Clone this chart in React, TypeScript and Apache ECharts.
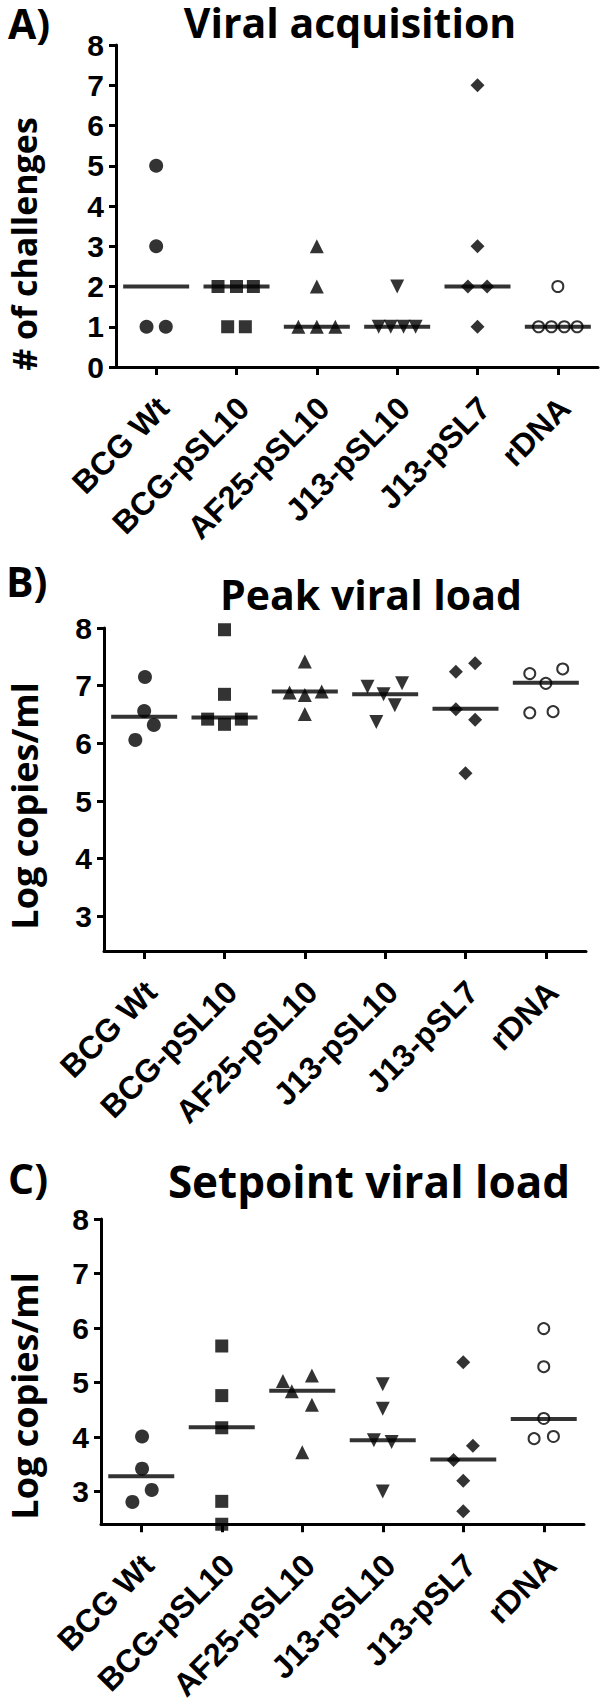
import React, { useEffect, useRef } from "react";
import * as echarts from "echarts";

const categories = ["BCG Wt", "BCG-pSL10", "AF25-pSL10", "J13-pSL10", "J13-pSL7", "rDNA"];

// Panel A: number of challenges
const acqValues = [
  [5, 3, 1, 1],
  [2, 2, 2, 1, 1],
  [3, 2, 1, 1, 1],
  [2, 1, 1, 1, 1],
  [7, 3, 2, 2, 1],
  [2, 1, 1, 1, 1],
];
const acqJitter = [
  [0, 0, -0.12, 0.12],
  [-0.23, 0, 0.21, -0.11, 0.11],
  [0, 0, -0.23, 0, 0.23],
  [0, -0.23, -0.08, 0.08, 0.23],
  [0, 0, -0.12, 0.12, 0],
  [0, -0.24, -0.08, 0.08, 0.24],
];
const acqMedians = [2, 2, 1, 1, 2, 1];

// Panel B: peak viral load (log copies/ml)
const peakValues = [
  [7.15, 6.56, 6.32, 6.06],
  [7.97, 6.85, 6.42, 6.33, 6.42],
  [7.42, 6.88, 6.84, 6.9, 6.51],
  [6.98, 6.85, 7.04, 6.66, 6.37],
  [7.24, 7.39, 6.59, 6.41, 5.48],
  [7.21, 7.04, 7.29, 6.53, 6.55],
];
const peakJitter = [
  [0.01, 0, 0.12, -0.11],
  [0, 0, -0.21, 0, 0.21],
  [0, -0.19, 0, 0.21, 0],
  [-0.22, -0.02, 0.21, 0.12, -0.11],
  [-0.12, 0.12, -0.12, 0.12, 0],
  [-0.2, 0, 0.21, -0.2, 0.09],
];
const peakMedians = [6.46, 6.45, 6.9, 6.85, 6.6, 7.05];

// Panel C: setpoint viral load (log copies/ml)
const setValues = [
  [4.01, 3.42, 3.03, 2.81],
  [5.67, 4.76, 4.17, 2.82, 2.4],
  [5.03, 5.13, 4.84, 4.59, 3.72],
  [4.97, 4.52, 3.94, 3.91, 3.0],
  [5.37, 3.84, 3.58, 3.2, 2.64],
  [5.99, 5.29, 4.34, 3.97, 4.01],
];
const setJitter = [
  [0.01, 0.01, 0.13, -0.11],
  [0, 0, 0, 0, 0],
  [-0.24, 0.12, -0.13, 0.12, 0],
  [0, 0, -0.11, 0.11, 0],
  [0, 0.12, -0.12, 0, 0],
  [0, 0, 0, -0.12, 0.12],
];
const setMedians = [3.28, 4.18, 4.85, 3.94, 3.59, 4.33];

const acqTicks = [0, 1, 2, 3, 4, 5, 6, 7, 8];
const logTicks = [3, 4, 5, 6, 7, 8];

const panelTitles = ["Viral acquisition", "Peak viral load", "Setpoint viral load"];
const panelLetters = ["A)", "B)", "C)"];
const yTitles = ["# of challenges", "Log copies/ml", "Log copies/ml"];

const symbols = [
  { symbol: "circle", size: 14, rotate: 0, empty: false },
  { symbol: "rect", size: 13, rotate: 0, empty: false },
  { symbol: "triangle", size: 14, rotate: 0, empty: false },
  { symbol: "triangle", size: 14, rotate: 180, empty: false },
  { symbol: "diamond", size: 14, rotate: 0, empty: false },
  { symbol: "emptyCircle", size: 11, rotate: 0, empty: true },
];

const TITLE_FONT = "Open Sans";
const NUM_FONT = "Liberation Sans";

export default function App() {
  const ref = useRef<HTMLDivElement>(null);
  useEffect(() => {
    if (!ref.current) return;
    const chart = echarts.init(ref.current, undefined, { renderer: "svg" });

    const grids = [
      { left: 116, top: 45, width: 482, height: 322 },
      { left: 104, top: 628, width: 482, height: 323 },
      { left: 101, top: 1219, width: 483, height: 321 },
    ];
    const panels = [
      { values: acqValues, jitter: acqJitter, medians: acqMedians },
      { values: peakValues, jitter: peakJitter, medians: peakMedians },
      { values: setValues, jitter: setJitter, medians: setMedians },
    ];

    const axisLineStyle = { color: "#000", width: 3 };
    const xAxes: any[] = [];
    const yAxes: any[] = [];
    const series: any[] = [];

    grids.forEach((g, k) => {
      xAxes.push({
        type: "category",
        gridIndex: k,
        data: categories,
        boundaryGap: true,
        axisLine: { show: true, onZero: false, lineStyle: axisLineStyle },
        axisTick: { show: true, alignWithLabel: true, length: 8, lineStyle: axisLineStyle },
        axisLabel: {
          rotate: 45,
          interval: 0,
          color: "#000",
          fontFamily: NUM_FONT,
          fontWeight: "bold",
          fontSize: 32,
          lineHeight: 32,
          align: "right",
          verticalAlign: "top",
          padding: [0, 6, 0, 0],
          margin: 20,
        },
        splitLine: { show: false },
      });
      xAxes.push({ type: "value", gridIndex: k, min: -0.5, max: 5.5, show: false });

      const yBase: any = {
        type: "value",
        gridIndex: k,
        axisLine: { show: true, onZero: false, lineStyle: axisLineStyle },
        axisTick: { show: true, length: 7, lineStyle: axisLineStyle },
        splitLine: { show: false },
        axisLabel: {
          color: "#000",
          fontFamily: NUM_FONT,
          fontWeight: "bold",
          fontSize: 30,
          margin: 12,
        },
      };
      if (k === 0) {
        yBase.min = 0;
        yBase.max = 8;
        yBase.interval = 1;
        yBase.axisTick.customValues = acqTicks;
        yBase.axisLabel.customValues = acqTicks;
      } else {
        yBase.min = 2.4;
        yBase.max = 8;
        yBase.axisTick.customValues = logTicks;
        yBase.axisLabel.customValues = logTicks;
      }
      yAxes.push(yBase);

      const p = panels[k];
      p.values.forEach((vals, i) => {
        const s = symbols[i];
        series.push({
          type: "scatter",
          xAxisIndex: 2 * k + 1,
          yAxisIndex: k,
          symbol: s.symbol,
          symbolSize: s.size,
          symbolRotate: s.rotate,
          clip: false,
          z: 2,
          itemStyle: s.empty
            ? { color: "#000", borderColor: "#000", borderWidth: 3 }
            : { color: "#000" },
          data: vals.map((v, j) => [i + p.jitter[i][j], v]),
        });
      });
      series.push({
        type: "scatter",
        xAxisIndex: 2 * k + 1,
        yAxisIndex: k,
        symbol: "rect",
        symbolSize: [66, 4],
        z: 3,
        itemStyle: { color: "#000" },
        data: p.medians.map((m, i) => [i, m]),
      });
    });

    const titles = [
      { x: 350, y: 22, size: 41 },
      { x: 371, y: 594, size: 41 },
      { x: 369, y: 1181, size: 44 },
    ];
    const letters = [
      { x: 8, y: 23 },
      { x: 6, y: 581 },
      { x: 8, y: 1178 },
    ];
    const yTitleBoxes = [
      { x: 24, y: 244, size: 34 },
      { x: 24, y: 806, size: 36 },
      { x: 24, y: 1396, size: 36 },
    ];

    const graphic: any[] = [];
    for (let k = 0; k < 3; k++) {
      graphic.push({
        type: "text",
        x: titles[k].x,
        y: titles[k].y,
        style: {
          text: panelTitles[k],
          fontFamily: TITLE_FONT,
          fontWeight: "bold",
          fontSize: titles[k].size,
          lineHeight: 30,
          fill: "#000",
          textAlign: "center",
          textVerticalAlign: "middle",
        },
      });
      graphic.push({
        type: "text",
        x: letters[k].x,
        y: letters[k].y,
        style: {
          text: panelLetters[k],
          fontFamily: TITLE_FONT,
          fontWeight: "bold",
          fontSize: 41,
          lineHeight: 30,
          fill: "#000",
          textAlign: "left",
          textVerticalAlign: "middle",
        },
      });
      graphic.push({
        type: "text",
        x: yTitleBoxes[k].x,
        y: yTitleBoxes[k].y,
        rotation: Math.PI / 2,
        style: {
          text: yTitles[k],
          fontFamily: TITLE_FONT,
          fontWeight: "bold",
          fontSize: yTitleBoxes[k].size,
          lineHeight: 30,
          fill: "#000",
          textAlign: "center",
          textVerticalAlign: "middle",
        },
      });
    }

    chart.setOption({
      animation: false,
      backgroundColor: "#fff",
      grid: grids,
      xAxis: xAxes,
      yAxis: yAxes,
      series,
      graphic,
    });
    return () => chart.dispose();
  }, []);

  return (
    <div
      ref={ref}
      style={{ position: "absolute", left: 0, top: 0, width: 600, height: 1704, background: "#fff" }}
    />
  );
}
